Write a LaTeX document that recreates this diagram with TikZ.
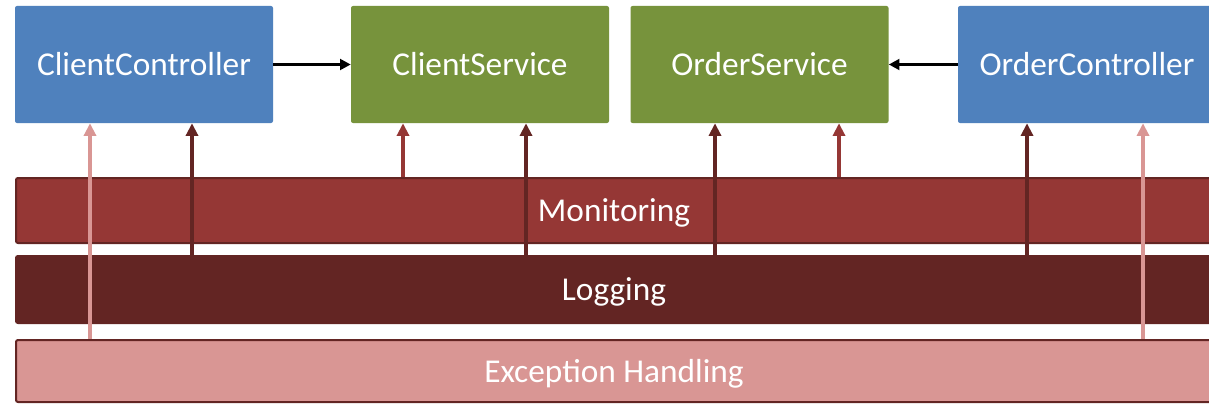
\documentclass[tikz,border=0pt]{standalone}
\usepackage{fontspec}
\setmainfont{Carlito}
\usetikzlibrary{arrows.meta}
\definecolor{ctrlblue}{HTML}{4F81BD}
\definecolor{svcgreen}{HTML}{77933C}
\definecolor{monred}{HTML}{953735}
\definecolor{logred}{HTML}{632523}
\definecolor{excpink}{HTML}{D99694}
\tikzset{
  comp/.style={rectangle, rounded corners=1.5pt, minimum width=193.5pt, minimum height=87.75pt,
    inner sep=0pt, text=white, font=\fontsize{25}{30}\selectfont},
  bar/.style={rectangle, rounded corners=1.5pt, draw=logred, line width=1.5pt, minimum width=897pt,
    inner sep=0pt, anchor=west, text=white, text depth=0pt, font=\fontsize{25}{30}\selectfont},
  call/.style={line width=2.2pt, -{Triangle[length=8pt, width=8pt]}},
  hook/.style={line width=3pt, -{Triangle[length=9.5pt, width=9pt]}},
}
\begin{document}
\begin{tikzpicture}[x=0.75pt, y=-0.75pt]
  \clip (0,0) rectangle (1209,403);
  \fill[white] (0,0) rectangle (1209,403);

  % components
  \node[comp, fill=ctrlblue] (cc) at (144,64.5) {ClientController};
  \node[comp, fill=svcgreen] (cs) at (480,64.5) {ClientService};
  \node[comp, fill=svcgreen] (os) at (759.5,64.5) {OrderService};
  \node[comp, fill=ctrlblue] (oc) at (1087,64.5) {OrderController};

  % cross-cutting layers
  \node[bar, fill=monred, minimum height=48.75pt] (mon) at (15,210.5) {Monitoring};
  \node[bar, fill=logred, minimum height=50.25pt] (log) at (15,289.5) {Logging};
  \node[bar, fill=excpink, minimum height=46.5pt] (exc) at (15,371) {Exception Handling};

  % direct calls
  \draw[call] (cc.east) -- (cs.west);
  \draw[call] (oc.west) -- (os.east);

  % layer hooks into the components
  \draw[hook, draw=excpink, fill=excpink] (exc.north -| 90,0) -- (cc.south -| 90,0);
  \draw[hook, draw=logred, fill=logred] (log.north -| 192,0) -- (cc.south -| 192,0);
  \draw[hook, draw=monred, fill=monred] (mon.north -| 403,0) -- (cs.south -| 403,0);
  \draw[hook, draw=logred, fill=logred] (log.north -| 526,0) -- (cs.south -| 526,0);
  \draw[hook, draw=logred, fill=logred] (log.north -| 715,0) -- (os.south -| 715,0);
  \draw[hook, draw=monred, fill=monred] (mon.north -| 839,0) -- (os.south -| 839,0);
  \draw[hook, draw=logred, fill=logred] (log.north -| 1027,0) -- (oc.south -| 1027,0);
  \draw[hook, draw=excpink, fill=excpink] (exc.north -| 1143,0) -- (oc.south -| 1143,0);
\end{tikzpicture}
\end{document}
